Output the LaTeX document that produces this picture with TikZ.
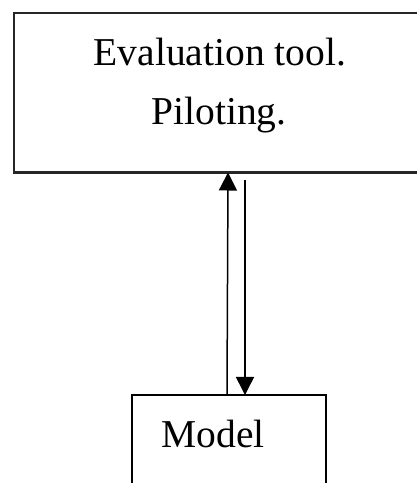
\documentclass[tikz,border=0pt]{standalone}
\usepackage{fontspec}
\setmainfont{Liberation Serif}
\usetikzlibrary{arrows.meta,calc}
\begin{document}
\begin{tikzpicture}[x=1pt,y=1pt,
  bigbox/.style={draw=black!85, line width=2.3pt, inner sep=0pt, outer sep=0pt},
  smallbox/.style={draw=black, line width=1.5pt, inner sep=0pt, outer sep=0pt},
  lbl/.style={font=\fontsize{39.5}{47}\selectfont, anchor=base, inner sep=0pt},
  conn/.style={line width=1.5pt, -{Triangle[width=18pt,length=18pt]}}]
\useasboundingbox (0,0) rectangle (417,483);
\clip (0,0) rectangle (417,483);
\node[bigbox, minimum width=412pt, minimum height=159.5pt] (eval) at (220,390.25) {};
\node[smallbox, minimum width=194pt, minimum height=118pt] (model) at (229,29) {};
\node[lbl] (t1) at (220,417) {Evaluation tool.};
\node[lbl] (t2) at (219,358) {Piloting.};
\node[lbl] (m) at (213,35) {Model};
\draw[conn] ($(model.north)+(-2,0)$) -- ($(eval.south)+(8,0)$);
\draw[conn] ($(eval.south)+(25,-8)$) -- ($(model.north)+(16,0)$);
\end{tikzpicture}
\end{document}
